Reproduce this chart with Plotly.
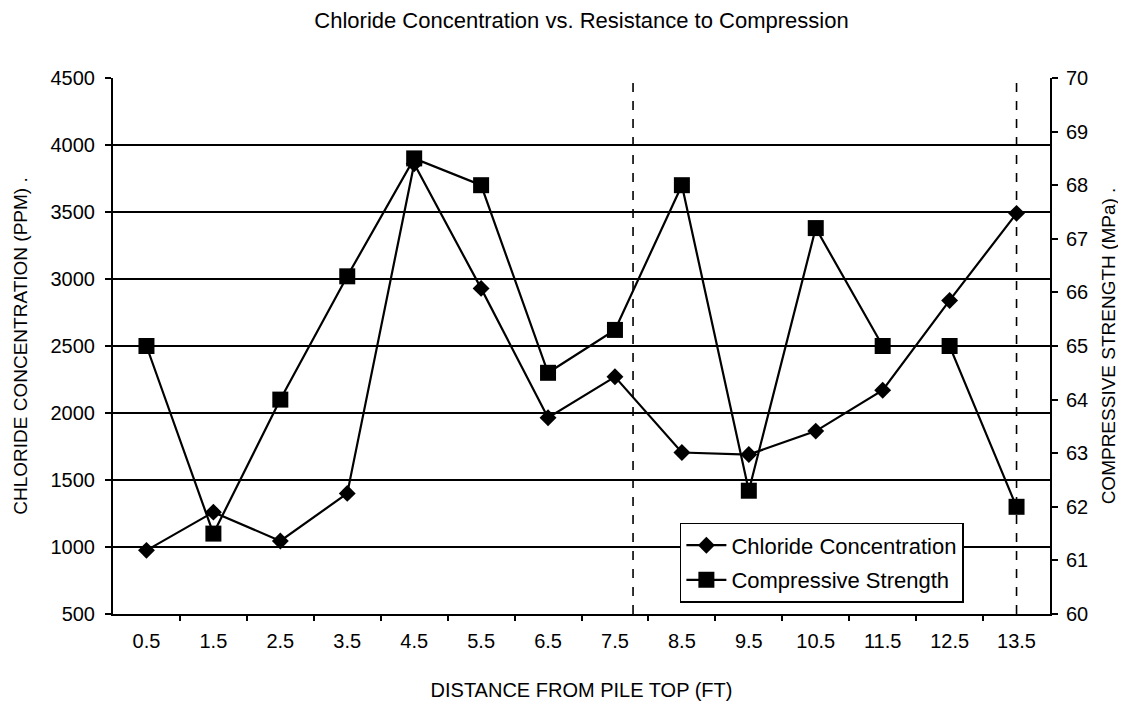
import plotly.graph_objects as go

distance_ft = [0.5, 1.5, 2.5, 3.5, 4.5, 5.5, 6.5, 7.5, 8.5, 9.5, 10.5, 11.5, 12.5, 13.5]
tick_labels = ["0.5", "1.5", "2.5", "3.5", "4.5", "5.5", "6.5", "7.5", "8.5", "9.5", "10.5", "11.5", "12.5", "13.5"]
chloride_ppm = [975, 1260, 1045, 1400, 3860, 2930, 1965, 2270, 1705, 1690, 1865, 2170, 2840, 3490]
compressive_mpa = [65.0, 61.5, 64.0, 66.3, 68.5, 68.0, 64.5, 65.3, 68.0, 62.3, 67.2, 65.0, 65.0, 62.0]
boundary_ticks = [1, 2, 3, 4, 5, 6, 7, 8, 9, 10, 11, 12, 13]
dashed_markers_ft = [7.77, 13.5]

FONT = "Arial, Liberation Sans, sans-serif"

fig = go.Figure()
fig.add_trace(go.Scatter(
    x=distance_ft, y=chloride_ppm, name="Chloride Concentration",
    mode="lines+markers", legendgroup="a",
    line=dict(color="black", width=2.2),
    marker=dict(symbol="diamond", size=13, color="black"),
    yaxis="y", xaxis="x"))
fig.add_trace(go.Scatter(
    x=distance_ft, y=compressive_mpa, name="Compressive Strength",
    mode="lines+markers", legendgroup="b",
    line=dict(color="black", width=2.2),
    marker=dict(symbol="square", size=16, color="black"),
    yaxis="y2", xaxis="x"))
# invisible trace to carry the boundary-tick axis
fig.add_trace(go.Scatter(x=[0, 14], y=[None, None], xaxis="x2", yaxis="y",
                         showlegend=False, hoverinfo="skip", mode="lines"))

shapes = []
for xv in dashed_markers_ft:
    shapes.append(dict(type="line", xref="x", yref="paper", x0=xv, x1=xv, y0=0, y1=1,
                       line=dict(color="black", width=1.6, dash="dash")))

fig.update_layout(
    width=1118, height=695,
    paper_bgcolor="white", plot_bgcolor="white",
    font=dict(family=FONT, size=20, color="black"),
    margin=dict(l=105, r=76, t=70, b=89, autoexpand=False),
    title=dict(text="Chloride Concentration vs. Resistance to Compression",
               x=0.5, xref="paper", y=0.983, yanchor="middle",
               font=dict(family=FONT, size=22, color="black")),
    xaxis=dict(range=[0, 14], tickvals=distance_ft, ticktext=tick_labels,
               ticks="", showgrid=False, zeroline=False, automargin=False,
               showline=True, linecolor="black", linewidth=2,
               ticklabelstandoff=8,
               title=dict(text="DISTANCE FROM PILE TOP (FT)", standoff=32,
                          font=dict(size=20))),
    xaxis2=dict(range=[0, 14], overlaying="x", anchor="y", side="bottom",
                tickvals=boundary_ticks, ticks="outside", ticklen=6,
                tickcolor="black", tickwidth=1.5, automargin=False,
                showticklabels=False, showgrid=False, zeroline=False, showline=False),
    yaxis=dict(range=[500, 4500], dtick=500, tick0=500, automargin=False,
               showgrid=True, gridcolor="black", gridwidth=1.5,
               showline=True, linecolor="black", linewidth=2,
               ticks="outside", ticklen=6, tickcolor="black", tickwidth=1.5,
               ticklabelstandoff=6, zeroline=False,
               title=dict(text="CHLORIDE CONCENTRATION (PPM) .", standoff=18,
                          font=dict(size=19))),
    yaxis2=dict(range=[60, 70], dtick=1, tick0=60, overlaying="y", side="right",
                automargin=False,
                showgrid=False, showline=True, linecolor="black", linewidth=2,
                ticks="outside", ticklen=6, tickcolor="black", tickwidth=1.5,
                ticklabelstandoff=4, zeroline=False,
                title=dict(text="COMPRESSIVE STRENGTH (MPa) .", standoff=14,
                           font=dict(size=19))),
    legend=dict(x=0.605, y=0.17, xanchor="left", yanchor="top",
                bgcolor="white", bordercolor="black", borderwidth=1.5,
                font=dict(family=FONT, size=22), tracegroupgap=3,
                itemwidth=40),
    shapes=shapes,
)

fig.write_html("out.html")
